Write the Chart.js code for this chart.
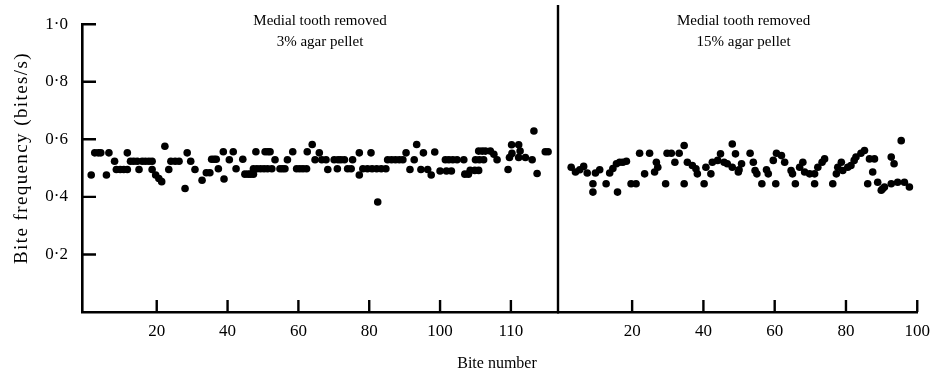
<!DOCTYPE html>
<html><head><meta charset="utf-8">
<script src="https://cdn.jsdelivr.net/npm/chart.js@4.4.1/dist/chart.umd.min.js"></script>
<style>
html,body{margin:0;padding:0;background:#fff;}
#wrap{position:relative;width:939px;height:379px;}
#wrap canvas{position:absolute;left:0;top:0;}
</style></head><body>
<div id="wrap"><canvas id="c1" width="939" height="379"></canvas><canvas id="c2" width="939" height="379"></canvas></div>
<script>
// ---- data ----
const yTickValues = [0.2, 0.4, 0.6, 0.8, 1.0];
const leftTickValues = [20, 40, 60, 80, 100, 120];
const leftTickLabels = ['20', '40', '60', '80', '100', '110'];
const rightTickValues = [20, 40, 60, 80, 100];
const rightTickLabels = ['20', '40', '60', '80', '100'];
const leftTitle = ['Medial tooth removed', '3% agar pellet'];
const rightTitle = ['Medial tooth removed', '15% agar pellet'];
const yAxisTitle = 'Bite frequency (bites/s)';
const xAxisTitle = 'Bite number';

const leftBite = [1.5,2.5,3.5,4.2,5.8,6.5,8.1,8.6,9.7,10.7,11.7,11.7,12.6,13.5,14.5,15,15.9,16.8,17.8,18.7,18.7,19.7,20.6,21.4,22.3,23.4,24,25.2,26.3,28,28.6,29.6,30.8,32.8,34,35,35.5,36.2,36.8,37.4,38.8,39,40.5,41.6,42.4,44.3,44.9,45.8,46.5,47.3,47.3,48.3,49.3,50.3,51.3,52.5,48,50.6,51.4,52,53.4,54.8,55.5,56.2,56.9,58.4,59.5,60.4,61.3,62.3,62.5,63.9,64.7,65.9,66.6,67.8,68.3,70.1,71.2,72,73,71,73.9,74.9,75.3,77.2,77.2,78.2,79.5,80.8,82.1,83.4,84.7,80.5,82.4,85.2,86.3,87.4,88.5,89.5,90.4,91.5,92.7,93.4,95.3,94.6,96.5,97.5,98.5,100,101.8,103.2,101.5,102.5,103.6,104.8,106.7,107,108,108.5,109.8,110.9,110,111.1,112.3,110.9,111.9,112.8,114.2,115.2,116.1,119.2,120.2,120.3,119.6,122.2,122.6,122.2,124.1,126,126.5,127.4,129.7,130.5];
const leftFreq = [0.476,0.553,0.553,0.553,0.476,0.553,0.524,0.495,0.495,0.495,0.495,0.553,0.524,0.524,0.524,0.495,0.524,0.524,0.524,0.524,0.495,0.476,0.464,0.453,0.576,0.495,0.524,0.524,0.524,0.429,0.553,0.524,0.495,0.458,0.484,0.484,0.531,0.531,0.531,0.498,0.557,0.462,0.529,0.557,0.498,0.531,0.479,0.479,0.479,0.479,0.498,0.498,0.498,0.498,0.498,0.498,0.557,0.557,0.557,0.557,0.529,0.498,0.498,0.498,0.529,0.557,0.498,0.498,0.498,0.498,0.557,0.582,0.529,0.553,0.529,0.529,0.495,0.529,0.529,0.529,0.529,0.498,0.498,0.498,0.529,0.553,0.476,0.498,0.498,0.498,0.498,0.498,0.498,0.553,0.382,0.529,0.529,0.529,0.529,0.529,0.553,0.495,0.529,0.582,0.553,0.495,0.495,0.476,0.556,0.49,0.49,0.49,0.529,0.529,0.529,0.529,0.529,0.479,0.479,0.492,0.492,0.492,0.529,0.529,0.529,0.559,0.559,0.559,0.559,0.548,0.529,0.495,0.581,0.551,0.537,0.581,0.559,0.537,0.537,0.529,0.629,0.481,0.557,0.557];

const rightBite = [2.9,4.1,5.3,6.4,7.4,9,9,9.7,10.9,12.7,13.7,14.6,15.6,16.5,17.4,18.4,15.9,19.7,21.1,22.1,23.5,24.9,26.3,27.2,26.8,29.4,29.8,31,32,33.2,34.6,34.6,35.5,36.9,37.9,38.3,40.2,40.7,42.1,42.5,44,44.8,45.8,46.7,48.1,49,48.1,50,49.8,50.7,53.1,54,54.5,55,56.4,57.7,58.2,59.6,60.5,61.9,62.8,60.3,64.6,65,65.8,67,67.9,68.4,69.8,71.2,71.2,72.1,73.3,74,76.3,77.3,77.7,78.7,79.1,80.5,81.4,82.3,82.8,84.2,85.2,86.1,86.6,88,87.5,88.9,89.9,90.3,90.8,92.7,93.5,92.7,95.5,94.5,96.4,97.8];
const rightFreq = [0.484,0.468,0.476,0.487,0.465,0.429,0.401,0.465,0.476,0.429,0.465,0.48,0.496,0.501,0.501,0.504,0.401,0.429,0.429,0.531,0.462,0.531,0.468,0.484,0.501,0.429,0.531,0.531,0.501,0.531,0.557,0.429,0.501,0.49,0.479,0.462,0.429,0.484,0.462,0.501,0.507,0.529,0.501,0.496,0.562,0.529,0.484,0.476,0.468,0.496,0.531,0.501,0.473,0.462,0.429,0.476,0.462,0.507,0.531,0.523,0.501,0.429,0.473,0.462,0.429,0.484,0.501,0.468,0.462,0.462,0.429,0.484,0.501,0.512,0.429,0.462,0.484,0.501,0.473,0.484,0.49,0.507,0.518,0.531,0.54,0.429,0.512,0.512,0.468,0.434,0.407,0.412,0.418,0.518,0.496,0.429,0.573,0.434,0.434,0.418];

// ---- drawing ----
const FONT = "'Liberation Serif', 'DejaVu Serif', serif";
const toPts = (xs, ys) => xs.map((x, i) => ({x: x, y: ys[i]}));

const decor = {
  id: 'decor',
  afterDraw(chart, args, o) {
    const ctx = chart.ctx, a = chart.chartArea;
    const xs = chart.scales.x, ys = chart.scales.y;
    ctx.save();
    ctx.strokeStyle = '#000';
    ctx.lineWidth = 2.4;
    ctx.beginPath();
    o.xTicks.forEach(v => {
      const px = xs.getPixelForValue(v);
      ctx.moveTo(px, a.bottom); ctx.lineTo(px, a.bottom - 12);
    });
    (o.yTicks || []).forEach(v => {
      const py = ys.getPixelForValue(v);
      ctx.moveTo(a.left, py); ctx.lineTo(a.left + 14, py);
    });
    if (o.divider) { ctx.moveTo(a.left, 5); ctx.lineTo(a.left, a.bottom); }
    ctx.stroke();
    ctx.fillStyle = '#000';
    ctx.textAlign = 'center';
    ctx.textBaseline = 'alphabetic';
    ctx.font = '15px ' + FONT;
    const cx = (a.left + a.right) / 2 + (o.titleDx || 0);
    ctx.fillText(o.title[0], cx, 25);
    ctx.fillText(o.title[1], cx, 46);
    if (o.xTitle) {
      ctx.font = '16px ' + FONT;
      ctx.textBaseline = 'middle';
      ctx.fillText(o.xTitle, 497, 364);
    }
    if (o.yTitle) {
      ctx.translate(22, 158);
      ctx.rotate(-Math.PI / 2);
      ctx.font = '19px ' + FONT;
      if ('letterSpacing' in ctx) ctx.letterSpacing = '1.4px';
      ctx.textBaseline = 'middle';
      ctx.fillText(o.yTitle, 0, 0);
    }
    ctx.restore();
  }
};

function makeChart(id, pts, xMin, xMax, tickVals, tickLabels, opt) {
  return new Chart(document.getElementById(id), {
    type: 'scatter',
    data: { datasets: [{ data: pts, backgroundColor: '#000', borderWidth: 0, pointRadius: 3.8, pointHoverRadius: 3.8 }] },
    options: {
      responsive: false, animation: false, devicePixelRatio: 1,
      layout: { padding: opt.padding },
      plugins: { legend: { display: false }, tooltip: { enabled: false }, decor: opt.decor },
      scales: {
        x: {
          type: 'linear', min: xMin, max: xMax,
          afterBuildTicks: s => { s.ticks = tickVals.map(v => ({ value: v })); },
          afterFit: s => { s.height = 67; },
          grid: { display: false, drawTicks: false },
          border: { display: true, color: '#000', width: 2.6 },
          ticks: { color: '#000', padding: 9, font: { family: FONT, size: 17 }, maxRotation: 0, autoSkip: false,
                   callback: (v, i) => tickLabels[i] }
        },
        y: {
          display: opt.showY, min: 0, max: 1.0,
          afterBuildTicks: s => { s.ticks = yTickValues.map(v => ({ value: v })); },
          afterFit: s => { if (opt.showY) s.width = 82; },
          grid: { display: false, drawTicks: false },
          border: { display: true, color: '#000', width: 2.6 },
          ticks: { color: '#000', padding: 14, font: { family: FONT, size: 17 },
                   callback: v => v.toFixed(1).replace('.', '\u00B7') }
        }
      }
    },
    plugins: [decor]
  });
}

makeChart('c1', toPts(leftBite, leftFreq), -1.1, 133.3, leftTickValues, leftTickLabels, {
  showY: true,
  padding: { left: 0, top: 13, right: 381, bottom: 0 },
  decor: { xTicks: leftTickValues, yTicks: yTickValues, title: leftTitle, yTitle: yAxisTitle }
});
makeChart('c2', toPts(rightBite, rightFreq), -0.8, 100, rightTickValues, rightTickLabels, {
  showY: false,
  padding: { left: 558, top: 13, right: 20, bottom: 0 },
  decor: { xTicks: rightTickValues, divider: true, title: rightTitle, titleDx: 6, xTitle: xAxisTitle }
});
</script>
</body></html>
